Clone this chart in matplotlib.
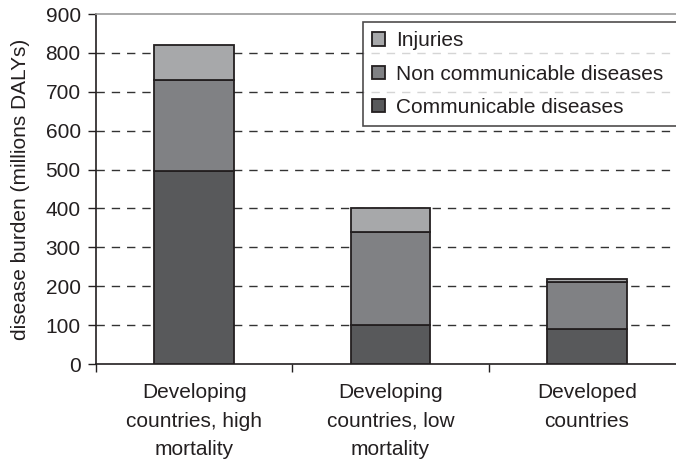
import matplotlib
matplotlib.use("Agg")
import matplotlib.pyplot as plt
import numpy as np

categories = ["Developing\ncountries, high\nmortality",
              "Developing\ncountries, low\nmortality",
              "Developed\ncountries"]
communicable = [495, 100, 90]
noncommunicable = [235, 240, 120]
injuries = [90, 60, 8]
series_names = ["Communicable diseases", "Non communicable diseases", "Injuries"]
colors = ["#58595b", "#808184", "#a7a8aa"]
yticks = [0, 100, 200, 300, 400, 500, 600, 700, 800, 900]

plt.rcParams['font.family'] = ['Liberation Sans', 'DejaVu Sans']
FS = 15
TC = "#231f20"

fig = plt.figure(figsize=(6.76, 4.61), dpi=100)
ax = fig.add_axes([96 / 676, 97 / 461, (685 - 96) / 676, (364 - 14) / 461])

x = np.arange(len(categories))
w = 0.405
edge = "#231f20"
bottom = np.zeros(len(categories))
handles = []
for vals, name, c in zip([communicable, noncommunicable, injuries], series_names, colors):
    b = ax.bar(x, vals, w, bottom=bottom, color=c, edgecolor=edge, linewidth=1.3, label=name, zorder=3)
    handles.append(b)
    bottom += np.array(vals)

ax.set_xlim(-0.5, 2.5)
ax.set_ylim(0, 900)
ax.set_yticks(yticks)
ax.set_yticklabels([str(t) for t in yticks], fontsize=FS, color=TC)
for t in yticks[1:-1]:
    ax.axhline(t, color="#333333", linestyle=(0, (6, 5)), linewidth=1.0, zorder=1)

ax.set_xticks([-0.5, 0.5, 1.5, 2.5], minor=False)
ax.set_xticklabels([])
ax.tick_params(axis='x', which='major', length=6, width=1, direction='out', color=edge)
ax.set_xticks(x, minor=True)
ax.set_xticklabels(categories, minor=True, fontsize=FS, color=TC, linespacing=1.62)
ax.tick_params(axis='x', which='minor', length=0, pad=14)
ax.tick_params(axis='y', length=6, width=1, color=edge, pad=5)

ax.spines['left'].set_color(edge)
ax.spines['bottom'].set_color(edge)
ax.spines['left'].set_linewidth(1.2)
ax.spines['bottom'].set_linewidth(1.2)
ax.spines['top'].set_color("#999999")
ax.spines['top'].set_linewidth(1.2)
ax.spines['right'].set_visible(False)

ax.set_ylabel("disease burden (millions DALYs)", fontsize=FS, color=TC, labelpad=11)

leg = fig.legend(handles[::-1], series_names[::-1], loc='upper left',
                 bbox_to_anchor=(363 / 676, 1 - 22 / 461, 0.52, 0), mode='expand',
                 borderaxespad=0,
                 fontsize=FS, handlelength=0.6, handleheight=0.6, handletextpad=0.55,
                 labelspacing=0.69, borderpad=0.45, fancybox=False, frameon=True)
leg.get_frame().set_edgecolor(edge)
leg.get_frame().set_linewidth(1.2)
for t in leg.get_texts():
    t.set_color(TC)

fig.savefig("out.png", dpi=100)
